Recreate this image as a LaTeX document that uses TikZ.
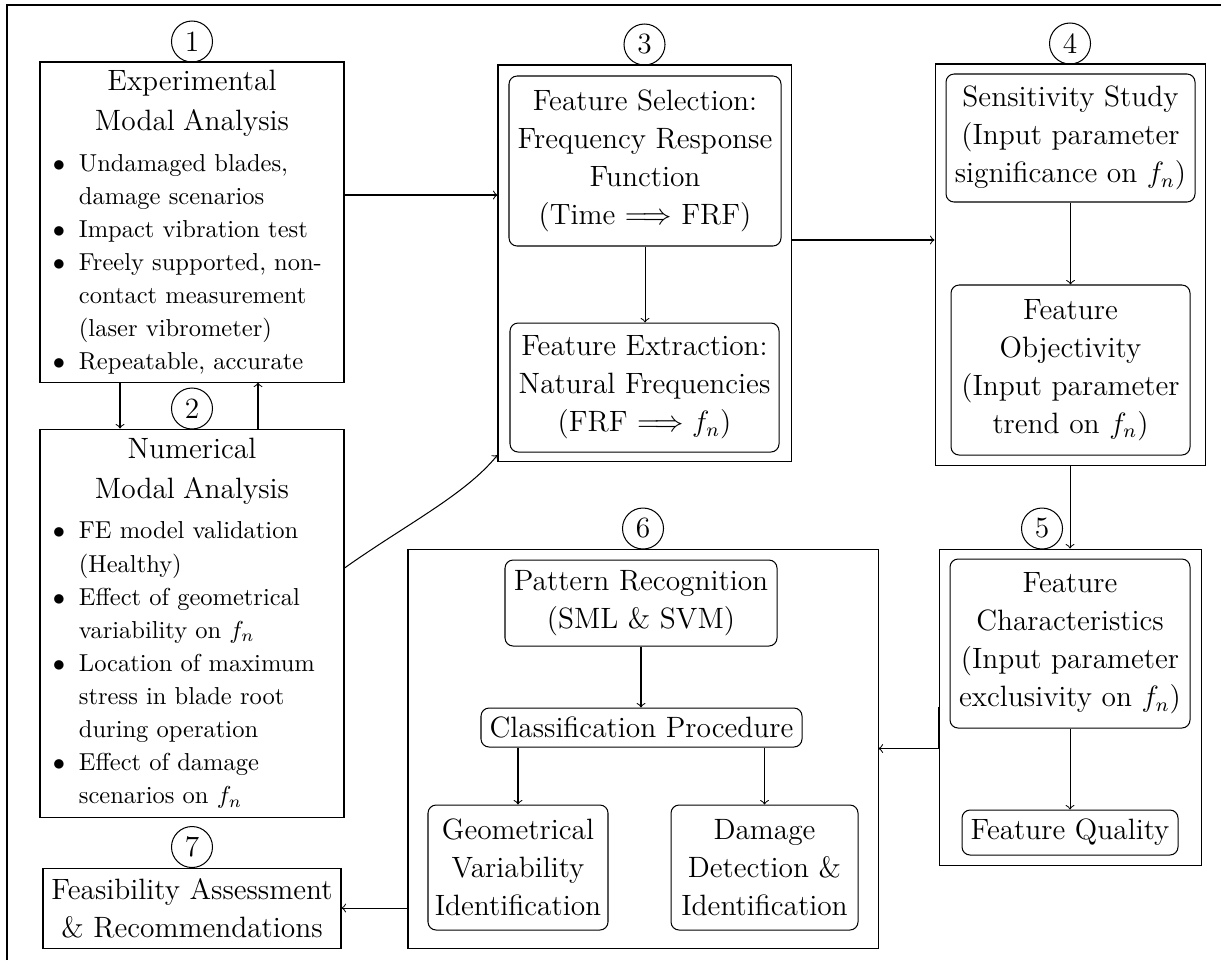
\documentclass[tikz,border=0pt]{standalone}
\newlength{\pxu}\setlength{\pxu}{0.40816pt}
\newcommand\bitem[1]{\par\noindent\hangindent=15.9pt\hangafter=1\makebox[15.9pt][l]{\hspace{5.3pt}$\bullet$}#1\par}
\tikzset{
  every path/.style={line width=0.42pt},
  frame/.style={draw, rectangle, inner sep=0pt},
  rb/.style={draw, rectangle, rounded corners=3.3pt, inner sep=0pt, align=center,
    font=\large\setlength{\baselineskip}{15.5pt}},
  sq/.style={draw, rectangle, inner sep=0pt, align=center,
    font=\large\setlength{\baselineskip}{15.5pt}},
  num/.style={draw, circle, inner sep=0pt, minimum size=41*\pxu, font=\large},
  listbox/.style={draw, rectangle, inner sep=0pt, text width=124.08pt}
}
\begin{document}
\begin{tikzpicture}[x=0.40816pt,y=-0.40816pt]
\useasboundingbox (0,0) rectangle (1225,960);
% outer frame (only top and left edges are visible)
\draw (7,960) -- (7,5) -- (1221,5);

% ---- box 1
\node[listbox, minimum height=320*\pxu] (B1) at (192,222) {%
{\large\centering\setlength{\baselineskip}{16.3pt}Experimental\\Modal Analysis\par}%
\vspace{3.2pt}%
{\rightskip=0pt plus 1fil\setlength{\baselineskip}{13.5pt}%
\bitem{Undamaged blades,\newline damage scenarios}%
\bitem{Impact vibration test}%
\bitem{Freely supported, non-\newline contact measurement\newline (laser vibrometer)}%
\bitem{Repeatable, accurate}}};
\node[num] (C1) at (192,41.5) {1};

% ---- box 2
\node[listbox, minimum height=388*\pxu] (B2) at (192,623) {%
{\large\centering\setlength{\baselineskip}{16.3pt}Numerical\\Modal Analysis\par}%
\vspace{3.2pt}%
{\rightskip=0pt plus 1fil\setlength{\baselineskip}{13.5pt}%
\bitem{FE model validation\newline (Healthy)}%
\bitem{Effect of geometrical\newline variability on $f_n$}%
\bitem{Location of maximum\newline stress in blade root\newline during operation}%
\bitem{Effect of damage\newline scenarios on $f_n$}}};
\node[num] (C2) at (192,408.5) {2};

% ---- box 7
\node[sq, minimum width=298*\pxu, minimum height=80*\pxu] (B7) at (192,908)
  {Feasibility Assessment\\\& Recommendations};
\node[num] (C7) at (192,847) {7};

% ---- box 3
\node[frame, minimum width=293*\pxu, minimum height=396*\pxu] (B3) at (644.5,263) {};
\node[num] (C3) at (644.5,44.5) {3};
\node[rb, minimum width=272*\pxu, minimum height=170*\pxu] (B3a) at (645,161)
  {Feature Selection:\\Frequency Response\\Function\\(Time $\Longrightarrow$ FRF)};
\node[rb, minimum width=269*\pxu, minimum height=129*\pxu] (B3b) at (644.5,387.5)
  {Feature Extraction:\\Natural Frequencies\\(FRF $\Longrightarrow f_n$)};

% ---- box 4
\node[frame, minimum width=270*\pxu, minimum height=401*\pxu] (B4) at (1070,264.5) {};
\node[num] (C4) at (1070,43.5) {4};
\node[rb, minimum width=249*\pxu, minimum height=128*\pxu] (B4a) at (1070.5,138)
  {Sensitivity Study\\(Input parameter\\significance on $f_n$)};
\node[rb, minimum width=239*\pxu, minimum height=170*\pxu] (B4b) at (1070.5,370)
  {Feature\\Objectivity\\(Input parameter\\trend on $f_n$)};

% ---- box 5
\node[frame, minimum width=262*\pxu, minimum height=316*\pxu] (B5) at (1070,707) {};
\node[num] (C5) at (1042,528.5) {5};
\node[rb, minimum width=240*\pxu, minimum height=169*\pxu] (B5a) at (1070,643.5)
  {Feature\\Characteristics\\(Input parameter\\exclusivity on $f_n$)};
\node[rb, minimum width=216*\pxu, minimum height=45*\pxu] (B5b) at (1070,832.5)
  {Feature Quality};

% ---- box 6
\node[frame, minimum width=470*\pxu, minimum height=399*\pxu] (B6) at (643,748.5) {};
\node[num] (C6) at (643,528.5) {6};
\node[rb, minimum width=272*\pxu, minimum height=86*\pxu] (B6a) at (641,603)
  {Pattern Recognition\\(SML \& SVM)};
\node[rb, minimum width=321*\pxu, minimum height=39*\pxu] (B6b) at (641.5,727.5)
  {Classification Procedure};
\node[rb, minimum width=180*\pxu, minimum height=125*\pxu] (B6c) at (518,867.5)
  {Geometrical\\Variability\\Identification};
\node[rb, minimum width=187*\pxu, minimum height=125*\pxu] (B6d) at (764.5,867.5)
  {Damage\\Detection \&\\Identification};

% ---- helper coordinates
\coordinate (x120) at (120,0);
\coordinate (x258) at (258,0);
\coordinate (y195) at (0,195);
\coordinate (y240) at (0,240);
\coordinate (y568) at (0,568);
\coordinate (y455) at (0,455);

% ---- connectors
\draw[->] (B1.south -| x120) -- (B2.north -| x120);
\draw[->] (B2.north -| x258) -- (B1.south -| x258);
\draw[->] (B1.east) |- (B3.west |- y195);
\draw[->] (B2.east |- y568) .. controls (405,525) and (465,495) .. (B3.west |- y455);
\draw[->] (B3a.south) -- (B3a.south |- B3b.north);
\draw[->] (B3.east) |- (B4.west |- y240);
\draw[->] (B4a.south) -- (B4a.south |- B4b.north);
\draw[->] (B4.south) -- (B4.south |- B5.north);
\draw[->] (B5a.south) -- (B5a.south |- B5b.north);
\draw[->] (B5.west) |- (B6.east);
\draw[->] (B6a.south) -- (B6a.south |- B6b.north);
\draw[->] (B6b.south -| B6c.north) -- (B6c.north);
\draw[->] (B6b.south -| B6d.north) -- (B6d.north);
\draw[->] (B6.west) |- (B7.east);
\end{tikzpicture}
\end{document}
